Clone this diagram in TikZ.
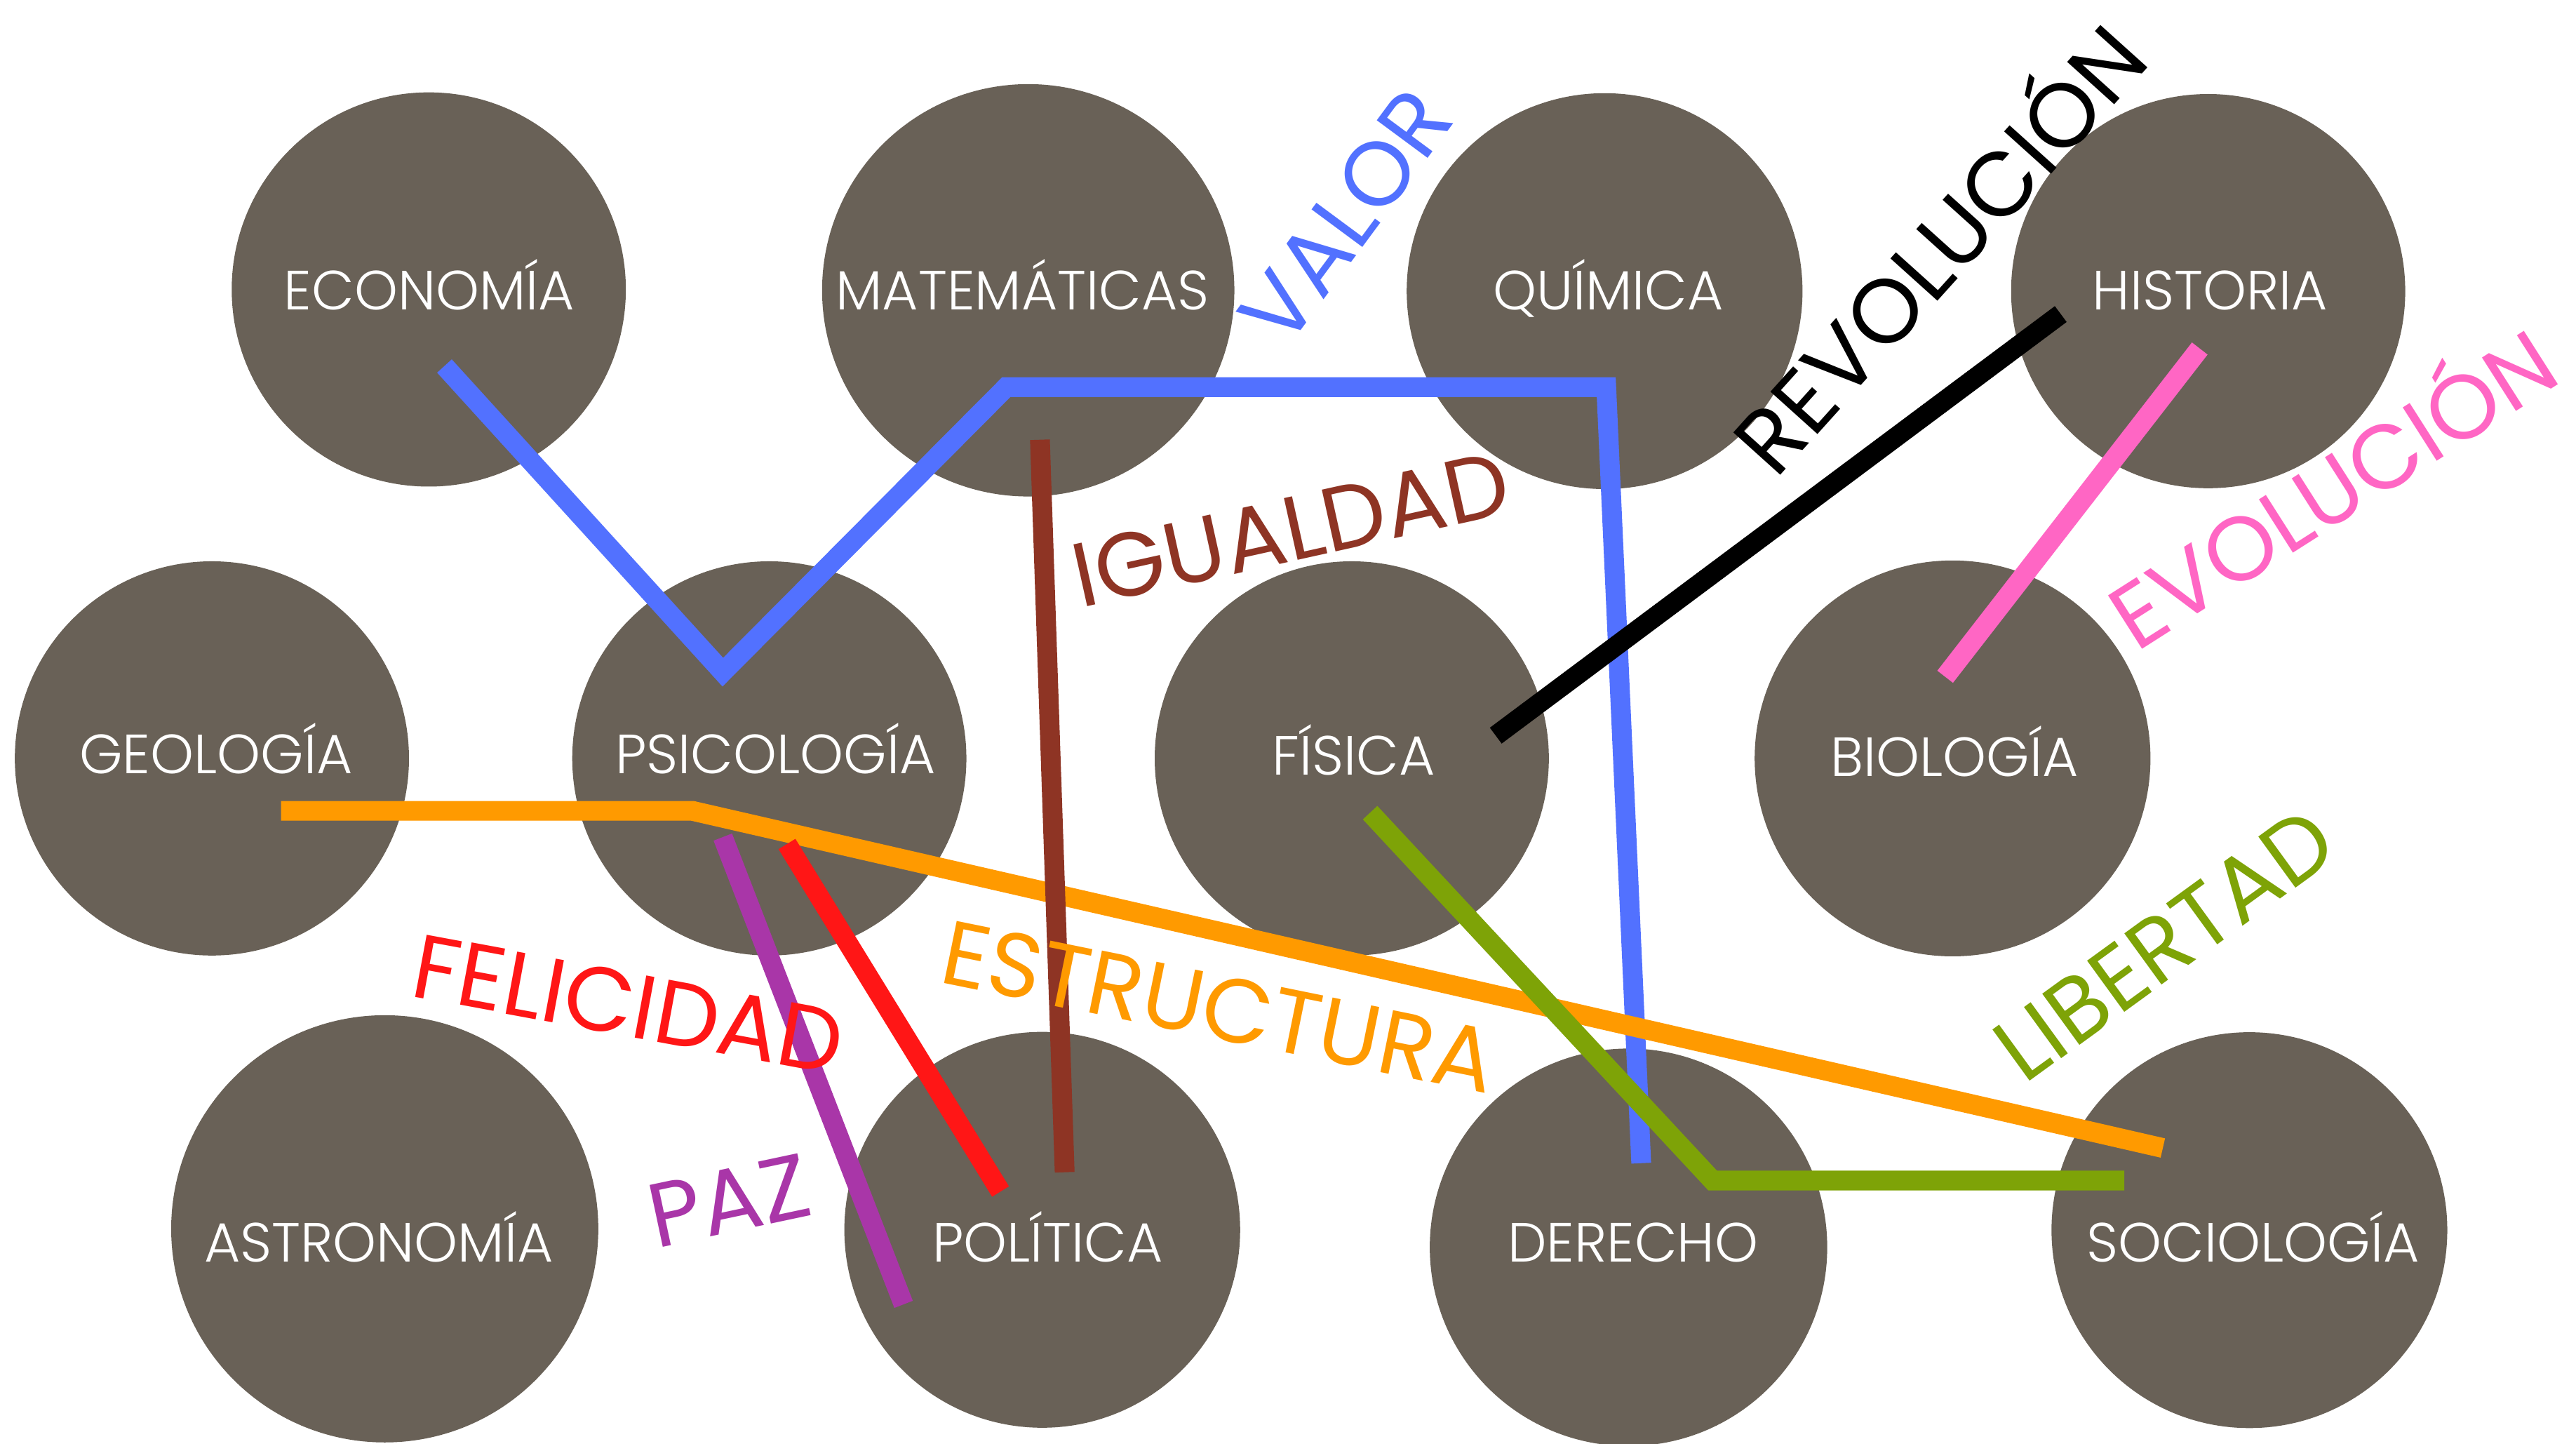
\documentclass[tikz,border=0pt]{standalone}
\usepackage{fontspec}
\setmainfont{Poppins}[UprightFont={* Light}]
\newfontfamily\topicfont{Poppins}
\definecolor{discfill}{HTML}{696157}
\definecolor{cblue}{HTML}{5271FF}
\definecolor{cpink}{HTML}{FF66C4}
\definecolor{cred}{HTML}{FF1616}
\definecolor{corange}{HTML}{FF9A00}
\definecolor{cgreen}{HTML}{7EA307}
\definecolor{cbrown}{HTML}{8E3424}
\definecolor{cpurple}{HTML}{A936A8}
\begin{document}
\begin{tikzpicture}[x=1pt,y=-1pt,
  disc/.style={circle, fill=discfill, draw=none, inner sep=0pt, minimum size=#1},
  disc/.default=240pt,
  clabel/.style={text=white, font=\fontsize{33.5}{33.5}\selectfont, inner sep=0pt, text height=23.4pt, text depth=0pt},
  topic/.style={font=\topicfont\fontsize{55}{55}\selectfont, inner sep=0pt, text height=38.5pt, text depth=0pt},
  band/.style={line width=12pt, line join=miter, line cap=butt}]
\useasboundingbox (0,0) rectangle (1562.06,875.45);
\fill[white] (0,0) rectangle (1562.06,875.45);

% discs
\node[disc=239pt] (econ) at (260,175.5) {};
\node[disc=250pt] (mate) at (623.5,176) {};
\node[disc=240pt] (quim) at (973,176.5) {};
\node[disc=239pt] (hist) at (1339,176.5) {};
\node[disc=239pt] (geol) at (128.5,459.8) {};
\node[disc=239pt] (psic) at (466.5,459.8) {};
\node[disc=239pt] (fisi) at (819.7,459.8) {};
\node[disc=240pt] (biol) at (1184,459.8) {};
\node[disc=259pt] (astr) at (233.3,745) {};
\node[disc=240pt] (poli) at (632,745.6) {};
\node[disc=241pt] (dere) at (987.5,756.2) {};
\node[disc=240pt] (soci) at (1364,745.8) {};

% line points
\coordinate (b1) at (269.5,221.9);
\coordinate (b2) at (438.3,407.5);
\coordinate (b3) at (610.2,234.7);
\coordinate (b4) at (974,234.7);
\coordinate (b5) at (995.2,705.2);
\coordinate (o1) at (170.4,491.6);
\coordinate (o2) at (419.9,491.6);
\coordinate (o3) at (1311.5,696);
\coordinate (r1) at (630.6,266.6);
\coordinate (r2) at (645.6,710.7);
\coordinate (g1) at (830.8,492.7);
\coordinate (g2) at (1038.5,715.7);
\coordinate (g3) at (1288.1,715.7);
\coordinate (f1) at (477.2,511.7);
\coordinate (f2) at (606.7,722.4);
\coordinate (p1) at (438.3,507.5);
\coordinate (p2) at (547.9,790.8);
\coordinate (k1) at (907,446);
\coordinate (k2) at (1249.6,190.4);
\coordinate (e1) at (1333.9,211.3);
\coordinate (e2) at (1179.5,410.3);

% lines
\draw[band, cblue] (b1) -- (b2) -- (b3) -- (b4) -- (b5);
\draw[band, corange] (o1) -- (o2) -- (o3);
\draw[band, cbrown] (r1) -- (r2);
\draw[band, cgreen] (g1) -- (g2) -- (g3);
\draw[band, cred] (f1) -- (f2);
\draw[band, cpurple] (p1) -- (p2);
\draw[band, black] (k1) -- (k2);
\draw[band, cpink] (e1) -- (e2);

% disc labels
\node[clabel] (econ-t) at (260.3,176) {ECONOMÍA};
\node[clabel] (mate-t) at (620,175.9) {MATEMÁTICAS};
\node[clabel] (quim-t) at (975.3,175.9) {QUÍMICA};
\node[clabel] (hist-t) at (1340.1,175.9) {HISTORIA};
\node[clabel] (geol-t) at (131,457.5) {GEOLOGÍA};
\node[clabel] (psic-t) at (470.2,457.5) {PSICOLOGÍA};
\node[clabel] (fisi-t) at (821,458) {FÍSICA};
\node[clabel] (biol-t) at (1185.2,458.8) {BIOLOGÍA};
\node[clabel] (astr-t) at (229.6,753.3) {ASTRONOMÍA};
\node[clabel] (poli-t) at (635.3,753.3) {POLÍTICA};
\node[clabel] (dere-t) at (990.2,753.3) {DERECHO};
\node[clabel] (soci-t) at (1366.3,753.3) {SOCIOLOGÍA};

% topic labels
\node[topic, text=cblue, rotate=53.5] (valor) at (816,131.2) {VALOR};
\node[topic, text=black, rotate=48] (revo) at (1176.7,151.7) {REVOLUCIÓN};
\node[topic, text=cpink, rotate=32.5] (evol) at (1414.8,297) {EVOLUCIÓN};
\node[topic, text=cbrown, rotate=12.5] (igual) at (782.6,320.8) {IGUALDAD};
\node[topic, text=cgreen, rotate=36] (liber) at (1312.4,572.4) {LIBERTAD};
\node[topic, text=cred, rotate=-10.5] (felic) at (381,608.8) {FELICIDAD};
\node[topic, text=corange, rotate=-11.5] (estru) at (739.1,610.5) {ESTRUCTURA};
\node[topic, text=cpurple, rotate=12] (paz) at (442,727.8) {PAZ};
\end{tikzpicture}
\end{document}
